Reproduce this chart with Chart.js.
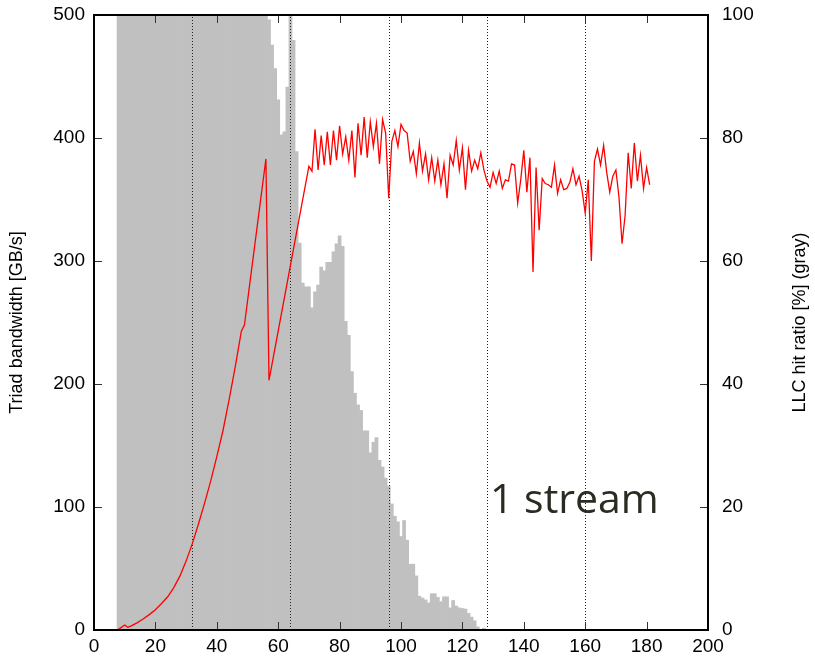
<!DOCTYPE html>
<html>
<head>
<meta charset="utf-8">
<script src="https://cdn.jsdelivr.net/npm/chart.js@4.4.0/dist/chart.umd.min.js"></script>
<style>
  html, body { margin: 0; padding: 0; background: #fff; }
</style>
</head>
<body>
<canvas id="triad" width="815" height="660"></canvas>
<script>
// LLC hit ratio (gray bars, right axis), one bar per thread count from 8 up
const hitFirstThread = 8;
const hitRatio = [
    100, 100, 100, 100, 100, 100, 100, 100, 100, 100,
    100, 100, 100, 100, 100, 100, 100, 100, 100, 100,
    100, 100, 100, 100, 100, 100, 100, 100, 100, 100,
    100, 100, 100, 100, 100, 100, 100, 100, 100, 100,
    100, 100, 100, 100, 100, 100, 100, 100, 100,
    99.2, 95.1, 91.3, 86.2, 80.5, 81, 88.3, 100, 95.9, 77.8,   // 57..66
    62.9, 56.4, 55.8, 55.8, 52.4, 55, 56.1, 59, 58.4, 59.8,    // 67..76
    59.8, 61.5, 62.8, 64.1, 62.4, 50.2, 47.9, 42, 38.5, 36.6,  // 77..86
    35.7, 32.4, 32.4, 28.8, 30.5, 31.3, 27.6, 26.5, 24.7, 23.4, // 87..96
    20.5, 18.5, 17.6, 15.2, 17.8, 14.6, 10.7, 10.7, 8.8, 5.5,  // 97..106
    5.2, 4.9, 4.4, 5.9, 5.9, 5.3, 4.6, 5.4, 5.4, 3.6,          // 107..116
    4.8, 3.9, 3.6, 3.5, 3.4, 2.7, 2.1, 1.5, 0.5, 0, 0.3        // 117..127
];

// Triad bandwidth (red line, left axis)
const bwThreads = [
    8, 10, 11, 12, 14, 16, 18, 20, 22, 24, 26, 28, 30, 32, 34, 36, 38, 40, 42, 44, 46, 48, 49,
    56, 57,
    70, 71, 72, 73, 74, 75, 76, 77, 78, 79,
    80, 81, 82, 83, 84, 85, 86, 87, 88, 89,
    90, 91, 92, 93, 94, 95, 96, 97, 98, 99,
    100, 101, 102, 103, 104, 105, 106, 107, 108, 109,
    110, 111, 112, 113, 114, 115, 116, 117, 118, 119,
    120, 121, 122, 123, 124, 125, 126, 127, 128, 129,
    130, 131, 132, 133, 134, 135, 136, 137, 138, 139,
    140, 141, 142, 143, 144, 145, 146, 147, 148, 149,
    150, 151, 152, 153, 154, 155, 156, 157, 158, 159,
    160, 161, 162, 163, 164, 165, 166, 167, 168, 169,
    170, 171, 172, 173, 174, 175, 176, 177, 178, 179,
    180, 181
];
const bwValues = [
    0.5, 4, 2.2, 3.2, 5.8, 9, 12.5, 16.5, 21.5, 27, 34.5, 44, 56, 70, 86, 103, 121, 141, 162, 187, 214, 243, 248,
    383, 203,
    377, 373, 407, 374, 402, 378, 405, 378, 406, 382,
    410, 387, 401, 382, 406, 368, 412, 386, 417, 384,
    413, 393, 412, 379, 415, 404, 351, 397, 406, 393,
    411, 406, 404, 381, 389, 371, 396, 373, 387, 366,
    384, 365, 382, 362, 379, 351, 386, 378, 398, 374,
    392, 358, 390, 373, 382, 375, 388, 374, 365, 360,
    372, 363, 373, 359, 366, 365, 379, 378, 347, 366,
    390, 356, 384, 291, 376, 325, 367, 363, 362, 360,
    378, 355, 366, 358, 359, 364, 375, 362, 369, 357,
    339, 366, 300, 381, 391, 378, 394, 372, 356, 369,
    374, 352, 314, 337, 388, 359, 396, 365, 386, 359,
    376, 362
];

// vertical dotted markers and axis ticks
const dottedThreads = [32, 64, 96, 128, 160];
const xTicks = [0, 20, 40, 60, 80, 100, 120, 140, 160, 180, 200];
const bwTicks = [0, 100, 200, 300, 400, 500];
const hitTicks = [0, 20, 40, 60, 80, 100];

const fontFamily = "'Liberation Sans', Arial, sans-serif";
const tickFont = { family: fontFamily, size: 19 };

const hitPoints = hitRatio.map((v, i) => ({ x: hitFirstThread + i, y: v }));
const bwPoints = bwThreads.map((t, i) => ({ x: t, y: bwValues[i] }));

// labels may stick out above/below the frame without pushing it
function fixVertical(width) {
    return s => {
        s.width = width;
        s.paddingTop = 0;
        s.paddingBottom = 0;
    };
}

// frame, inward ticks (gnuplot style), dotted markers, right title, label
const gnuplotLook = {
    id: 'gnuplotLook',
    afterDatasetDraw(chart, args) {
        if (args.index !== 0) return;
        const { ctx, chartArea: a, scales } = chart;
        ctx.save();
        ctx.strokeStyle = '#222';
        ctx.lineWidth = 1;
        ctx.setLineDash([1, 2]);
        dottedThreads.forEach(t => {
            const px = Math.round(scales.x.getPixelForValue(t)) + 0.5;
            ctx.beginPath();
            ctx.moveTo(px, a.bottom);
            ctx.lineTo(px, a.top);
            ctx.stroke();
        });
        ctx.restore();
    },
    afterDraw(chart) {
        const { ctx, chartArea: a, scales } = chart;
        ctx.save();
        ctx.strokeStyle = '#333';
        ctx.lineWidth = 1;
        const len = 8;
        xTicks.forEach(t => {
            const px = Math.round(scales.x.getPixelForValue(t)) + 0.5;
            ctx.beginPath();
            ctx.moveTo(px, a.bottom); ctx.lineTo(px, a.bottom - len);
            ctx.moveTo(px, a.top); ctx.lineTo(px, a.top + len);
            ctx.stroke();
        });
        bwTicks.forEach(t => {
            const py = Math.round(scales.y.getPixelForValue(t)) + 0.5;
            ctx.beginPath();
            ctx.moveTo(a.left, py); ctx.lineTo(a.left + len, py);
            ctx.stroke();
        });
        hitTicks.forEach(t => {
            const py = Math.round(scales.yR.getPixelForValue(t)) + 0.5;
            ctx.beginPath();
            ctx.moveTo(a.right, py); ctx.lineTo(a.right - len, py);
            ctx.stroke();
        });
        ctx.strokeStyle = '#000';
        ctx.lineWidth = 2;
        ctx.strokeRect(a.left, a.top, a.right - a.left, a.bottom - a.top);

        // right axis title reads bottom-to-top like the left one
        ctx.fillStyle = '#000';
        ctx.font = '18px ' + fontFamily;
        ctx.textAlign = 'center';
        ctx.textBaseline = 'middle';
        ctx.translate(800, (a.top + a.bottom) / 2);
        ctx.rotate(-Math.PI / 2);
        ctx.fillText('LLC hit ratio [%] (gray)', 0, 0);
        ctx.restore();

        ctx.save();
        ctx.fillStyle = '#2b2b22';
        ctx.font = "41px 'Open Sans', sans-serif";
        ctx.textAlign = 'left';
        ctx.textBaseline = 'middle';
        ctx.fillText('1 stream', scales.x.getPixelForValue(129), scales.y.getPixelForValue(105));
        ctx.restore();
    }
};

new Chart(document.getElementById('triad').getContext('2d'), {
    type: 'bar',
    data: {
        datasets: [{
            type: 'bar',
            data: hitPoints,
            yAxisID: 'yR',
            backgroundColor: '#c0c0c0',
            borderWidth: 0,
            barPercentage: 1,
            categoryPercentage: 1,
            order: 2
        }, {
            type: 'line',
            data: bwPoints,
            yAxisID: 'y',
            borderColor: '#ff0000',
            borderWidth: 1.3,
            pointRadius: 0,
            tension: 0,
            fill: false,
            order: 1
        }]
    },
    options: {
        responsive: false,
        animation: false,
        layout: { padding: { top: 15, left: 0, right: 0, bottom: 0 } },
        plugins: { legend: { display: false }, tooltip: { enabled: false } },
        scales: {
            x: {
                type: 'linear',
                offset: false,
                min: 0,
                max: 200,
                ticks: { stepSize: 20, font: tickFont, color: '#000', padding: 5, maxRotation: 0 },
                grid: { display: false, drawTicks: false, offset: false },
                border: { display: false },
                afterFit: s => { s.height = 30; }
            },
            y: {
                position: 'left',
                min: 0,
                max: 500,
                ticks: { stepSize: 100, font: tickFont, color: '#000', padding: 9 },
                grid: { display: false, drawTicks: false },
                border: { display: false },
                title: {
                    display: true,
                    text: 'Triad bandwidth [GB/s]',
                    color: '#000',
                    font: { family: fontFamily, size: 18 },
                    padding: { top: 6, bottom: 0 }
                },
                afterFit: fixVertical(94)
            },
            yR: {
                position: 'right',
                min: 0,
                max: 100,
                ticks: { stepSize: 20, font: tickFont, color: '#000', padding: 14 },
                grid: { display: false, drawTicks: false },
                border: { display: false },
                afterFit: fixVertical(107)
            }
        }
    },
    plugins: [gnuplotLook]
});
</script>
</body>
</html>
